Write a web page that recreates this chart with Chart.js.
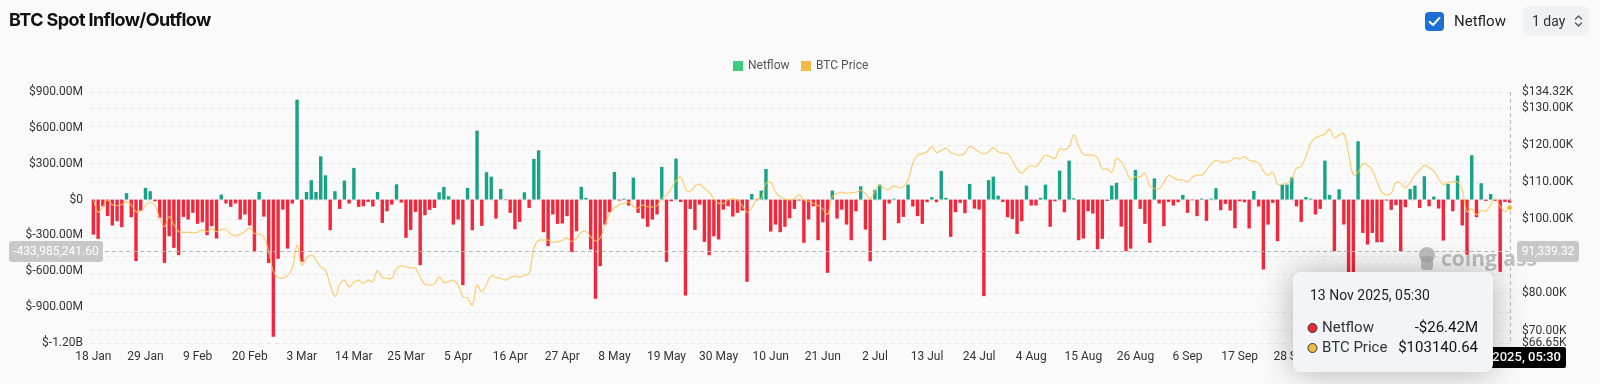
<!DOCTYPE html>
<html>
<head>
<meta charset="utf-8">
<script src="https://cdn.jsdelivr.net/npm/chart.js@4.4.1/dist/chart.umd.min.js"></script>
<style>
  body { margin: 0; background: #fafafa; font-family: Roboto, "Noto Sans", sans-serif; }
  #wrap { position: relative; width: 1600px; height: 384px; overflow: hidden; background: #fafafa; }
  #c { position: absolute; left: 0; top: 0; }
  .title { position: absolute; left: 9px; top: 9px; font: 700 18px Inter, sans-serif; letter-spacing: -0.6px; color: #111; }
  .chk { position: absolute; left: 1425px; top: 12px; width: 19px; height: 19px; border-radius: 4px; background: #1b6fd6; }
  .chkLabel { position: absolute; left: 1454px; top: 11px; font-size: 15px; line-height: 20px; color: #222; }
  .btn { position: absolute; left: 1523px; top: 6px; width: 66px; height: 30px; border-radius: 6px; background: #eff1f4; }
  .btn span { position: absolute; left: 9px; top: 0; font-size: 14px; line-height: 30px; color: #333; }
  .btn svg { position: absolute; left: 51px; top: 8px; }
  .lg { position: absolute; top: 58px; font-size: 12px; line-height: 14px; color: #555; }
  .sq { position: absolute; top: 61px; width: 10px; height: 10px; }
</style>
</head>
<body>
<div id="wrap">
  <canvas id="c" width="1600" height="384"></canvas>
  <div class="title">BTC Spot Inflow/Outflow</div>
  <div class="chk">
    <svg width="19" height="19" viewBox="0 0 19 19"><path d="M4.5 9.8 L8 13 L14.5 5.8" fill="none" stroke="#fff" stroke-width="2" stroke-linecap="round" stroke-linejoin="round"/></svg>
  </div>
  <div class="chkLabel">Netflow</div>
  <div class="btn"><span>1 day</span>
    <svg width="9" height="14" viewBox="0 0 9 14"><path d="M1.5 5 L4.5 2 L7.5 5 M1.5 9 L4.5 12 L7.5 9" fill="none" stroke="#555" stroke-width="1.3" stroke-linecap="round" stroke-linejoin="round"/></svg>
  </div>
  <div class="sq" style="left:733px;background:#3ccc7c"></div>
  <div class="lg" style="left:748px">Netflow</div>
  <div class="sq" style="left:801px;background:#f2bb45"></div>
  <div class="lg" style="left:816px">BTC Price</div>
</div>

<script>
// daily netflow, millions of USD, from 18 Jan 2025
const netflow = [
  -293, -329, -56, -139, -217, -181, -231, 53, -148, -515,
  -92, 98, 70, -14, -153, -530, -307, -404, -465, -145,
  -167, -111, -203, -190, -298, -223, -326, 42, -33, -61,
  -33, -167, -125, -217, -440, 64, -142, -530, -1148, -496,
  -84, -410, -33, 836, -521, 64, 162, 64, 362, 203,
  -256, 70, -78, 159, -33, 265, -61, -56, -20, -58,
  64, -195, -98, -42, 128, -25, -320, -254, -103, -549,
  -131, -86, -70, 61, 106, 28, -209, -167, -716, 98,
  -256, 577, -220, 229, 192, -159, 89, -5, -111, -248,
  -187, 61, -70, 340, 412, -273, -390, -125, -203, -200,
  -139, -440, -265, 106, 14, -418, -830, -557, -209, -106,
  231, -8, 8, -50, 184, -111, -159, -228, -167, -125,
  273, -521, -14, 343, -20, -803, -78, -254, -42, -354,
  -465, -307, -334, -84, -56, -142, -111, -92, -688, 47,
  -5, 75, 256, -268, -209, -273, -228, -156, -78, -8,
  -362, -167, -56, -340, -190, -613, 75, -159, -84, -209,
  -340, -98, 111, -251, -516, 81, 125, -340, -33, 8,
  -198, -145, 125, -58, -139, -203, -22, 20, -22, 240,
  14, -312, -106, -28, -114, 131, -75, -84, -808, 162,
  192, 33, -20, -148, -162, -287, -181, 117, -50, -50,
  14, 125, -228, -14, 242, -106, 326, 11, -340, -326,
  -98, -117, -415, -329, -11, 117, 139, -226, -432, -410,
  248, -78, -203, -362, 178, -33, -223, -20, -50, -22,
  39, -111, -6, -139, 8, -178, 8, 95, -89, -36,
  -92, -240, -14, -22, -242, 72, -58, -585, -209, -28,
  -348, 125, 125, 186, -56, -187, 22, 8, -125, -78,
  326, 39, -432, 86, -209, -640, -720, 488, -279, -376,
  -279, -357, -357, -8, -86, -47, -432, -64, 89, 117,
  -70, 195, -56, 25, -75, -343, 131, -98, 201, -217,
  -460, 371, -148, 137, -11, 47, -11, -605, -20, -26.42
];

// BTC price, thousands of USD
const btcPrice = [
  105.2, 101.9, 103.4, 105.2, 103.9, 103.7, 104.0, 104.7, 103.9, 102.1,
  102.1, 103.7, 104.6, 103.7, 100.3, 98.0, 100.7, 98.5, 96.7, 96.5,
  96.5, 96.4, 96.5, 97.1, 96.7, 97.4, 96.7, 97.3, 97.3, 96.0,
  95.6, 96.0, 96.7, 97.7, 96.2, 96.0, 95.3, 91.3, 85.9, 84.3,
  84.1, 84.8, 86.8, 93.0, 87.7, 89.5, 90.4, 89.0, 87.2, 86.3,
  82.3, 79.2, 82.3, 83.6, 81.8, 83.0, 83.6, 82.7, 83.6, 83.2,
  86.1, 84.3, 84.1, 84.1, 86.8, 87.4, 87.2, 86.9, 86.8, 84.3,
  82.5, 82.3, 82.6, 84.5, 83.0, 83.2, 83.6, 82.3, 79.2, 78.7,
  76.9, 82.3, 80.5, 82.5, 84.8, 84.3, 84.1, 83.6, 84.3, 84.7,
  84.4, 85.0, 85.4, 92.2, 94.3, 94.4, 94.4, 93.8, 94.0, 94.3,
  94.9, 94.0, 94.9, 96.5, 96.7, 95.3, 94.2, 94.9, 98.5, 101.6,
  103.1, 103.9, 104.3, 104.6, 103.4, 103.0, 103.9, 103.4, 103.3, 103.7,
  105.6, 106.6, 108.3, 110.3, 111.4, 108.3, 107.4, 109.0, 109.4, 108.3,
  107.3, 105.5, 104.3, 104.3, 105.2, 105.6, 105.2, 103.7, 101.9, 103.0,
  105.5, 105.6, 109.7, 110.0, 107.4, 106.1, 105.5, 105.2, 105.5, 106.6,
  105.2, 104.9, 104.3, 103.7, 102.8, 101.3, 106.1, 107.0, 107.3, 107.0,
  107.2, 107.3, 107.8, 107.0, 105.6, 107.6, 109.2, 108.3, 108.1, 109.0,
  108.5, 108.8, 110.6, 115.1, 117.3, 117.7, 118.2, 119.6, 118.0, 118.6,
  119.1, 118.1, 117.5, 117.3, 117.8, 119.7, 119.0, 118.2, 117.6, 118.2,
  119.3, 118.2, 117.8, 117.7, 116.0, 113.6, 112.4, 113.7, 114.5, 114.2,
  115.7, 117.3, 116.9, 116.4, 119.0, 118.7, 119.6, 122.7, 119.8, 117.5,
  117.3, 117.3, 116.6, 113.6, 113.6, 112.7, 116.4, 115.4, 113.3, 110.6,
  111.5, 111.5, 112.4, 109.0, 108.3, 108.2, 110.0, 111.8, 111.2, 110.7,
  110.6, 110.1, 111.3, 111.9, 111.9, 113.3, 115.0, 115.9, 115.5, 115.4,
  115.7, 116.6, 116.3, 116.9, 115.9, 115.7, 115.1, 113.0, 111.9, 112.7,
  109.4, 109.5, 109.7, 111.0, 113.7, 114.3, 116.9, 120.5, 122.0, 122.5,
  122.9, 124.3, 122.0, 122.7, 123.1, 117.8, 112.0, 112.7, 115.0, 114.6,
  113.3, 110.1, 107.4, 106.6, 107.0, 110.0, 109.7, 108.5, 110.0, 111.9,
  113.3, 114.6, 113.9, 113.0, 111.0, 109.4, 109.9, 110.1, 110.1, 107.9,
  102.0, 102.8, 101.2, 102.4, 102.2, 103.9, 105.5, 103.4, 102.1, 103.14
];

const priceTicks = [66.65, 70, 75, 80, 85, 90, 95, 100, 105, 110, 115, 120, 125, 130, 134.32];
const priceLabelled = [66.65, 70, 80, 90, 100, 110, 120, 130, 134.32];

// hover state shown in the picture
const hoverIndex = 299;
const hoverTitle = '13 Nov 2025, 05:30';
const hoverNetflowText = '-$26.42M';
const hoverPriceText = '$103140.64';
const cursorNetflow = -433.9852416;
const cursorLeftText = '-433,985,241.60';
const cursorRightText = '91,339.32';

const MONTHS = ['Jan','Feb','Mar','Apr','May','Jun','Jul','Aug','Sep','Oct','Nov','Dec'];
const start = Date.UTC(2025, 0, 18);
const dayLabels = netflow.map((v, i) => {
  const d = new Date(start + i * 86400000);
  return d.getUTCDate() + ' ' + MONTHS[d.getUTCMonth()];
});

const GREEN = '#17a387';
const RED = '#f3263c';
const TICK_FONT = { family: 'Roboto', size: 12 };

function fmtFlow(v) {
  if (v === 0) return '$0';
  if (Math.abs(v) >= 1000) return '$' + (v / 1000).toFixed(2) + 'B';
  return '$' + v.toFixed(2) + 'M';
}

function roundRect(ctx, x, y, w, h, r) {
  ctx.beginPath();
  ctx.moveTo(x + r, y);
  ctx.arcTo(x + w, y, x + w, y + h, r);
  ctx.arcTo(x + w, y + h, x, y + h, r);
  ctx.arcTo(x, y + h, x, y, r);
  ctx.arcTo(x, y, x + w, y, r);
  ctx.closePath();
}

const overlay = {
  id: 'overlay',
  beforeDatasetsDraw(chart) {
    const ctx = chart.ctx;
    ctx.save();
    ctx.fillStyle = 'rgba(165,165,165,0.7)';
    // little logo blob
    ctx.beginPath();
    ctx.arc(1427, 255, 8, 0, Math.PI * 2);
    ctx.fill();
    roundRect(ctx, 1421, 256, 12, 14, 3);
    ctx.fill();
    ctx.font = '700 21px "Open Sans"';
    ctx.textBaseline = 'middle';
    ctx.fillText('coinglass', 1441, 260);
    ctx.restore();
  },
  afterDraw(chart) {
    const ctx = chart.ctx;
    const area = chart.chartArea;
    const xs = chart.scales.x, ys = chart.scales.y;
    const hx = xs.getPixelForValue(hoverIndex);
    const hy = ys.getPixelForValue(cursorNetflow);
    ctx.save();
    // crosshair
    ctx.strokeStyle = '#b9b9b9';
    ctx.lineWidth = 1;
    ctx.setLineDash([4, 3]);
    ctx.beginPath();
    ctx.moveTo(area.left, Math.round(hy) + 0.5);
    ctx.lineTo(area.right, Math.round(hy) + 0.5);
    ctx.moveTo(Math.round(hx) + 0.5, area.top);
    ctx.lineTo(Math.round(hx) + 0.5, area.bottom);
    ctx.stroke();
    ctx.setLineDash([]);

    // hovered price point
    const pt = chart.getDatasetMeta(0).data[hoverIndex];
    ctx.fillStyle = '#f5b93e';
    ctx.strokeStyle = '#fff';
    ctx.lineWidth = 1;
    ctx.beginPath();
    ctx.arc(pt.x, pt.y, 3, 0, Math.PI * 2);
    ctx.fill();
    ctx.stroke();

    // axis cursor labels
    ctx.font = '12px Roboto';
    ctx.textBaseline = 'middle';
    ctx.textAlign = 'center';
    ctx.fillStyle = '#c8c8c8';
    roundRect(ctx, 9, hy - 10.5, 94, 21, 3); ctx.fill();
    roundRect(ctx, 1517, hy - 10.5, 62, 21, 3); ctx.fill();
    ctx.fillStyle = '#fff';
    ctx.fillText(cursorLeftText, 56, hy + 0.5);
    ctx.fillText(cursorRightText, 1548, hy + 0.5);

    // bottom date label, kept inside the canvas edge
    ctx.font = '500 13px Roboto';
    const tw = ctx.measureText(hoverTitle).width + 10;
    const bx = Math.min(hx - tw / 2, 1566 - tw);
    ctx.fillStyle = '#000';
    roundRect(ctx, bx, 347, tw, 21, 2); ctx.fill();
    ctx.fillStyle = '#fff';
    ctx.fillText(hoverTitle, bx + tw / 2, 358);

    // tooltip box
    ctx.shadowColor = 'rgba(0,0,0,0.3)';
    ctx.shadowBlur = 34;
    ctx.fillStyle = '#f3f4f7';
    roundRect(ctx, 1293, 272, 200, 100, 8); ctx.fill();
    ctx.shadowColor = 'transparent';
    ctx.shadowBlur = 0;
    ctx.textAlign = 'left';
    ctx.fillStyle = '#222';
    ctx.font = '14px Roboto';
    ctx.fillText(hoverTitle, 1310, 296);
    ctx.font = '15px Roboto';
    ctx.fillStyle = '#333';
    ctx.fillText('Netflow', 1322, 328);
    ctx.fillText('BTC Price', 1322, 348);
    ctx.textAlign = 'right';
    ctx.fillStyle = '#111';
    ctx.fillText(hoverNetflowText, 1478, 328);
    ctx.fillText(hoverPriceText, 1478, 348);
    const dots = [[328, RED], [348, '#f2bb45']];
    dots.forEach(([y, c]) => {
      ctx.beginPath();
      ctx.arc(1312.5, y, 4.5, 0, Math.PI * 2);
      ctx.fillStyle = c;
      ctx.fill();
      ctx.strokeStyle = '#333';
      ctx.lineWidth = 1;
      ctx.stroke();
    });
    ctx.restore();
  }
};

new Chart(document.getElementById('c'), {
  data: {
    labels: dayLabels,
    datasets: [
      {
        type: 'line',
        label: 'BTC Price',
        data: btcPrice,
        yAxisID: 'y1',
        borderColor: 'rgba(251,196,84,0.82)',
        borderWidth: 1.2,
        pointRadius: 0,
        tension: 0.4,
        order: 0
      },
      {
        type: 'bar',
        label: 'Netflow',
        data: netflow,
        yAxisID: 'y',
        backgroundColor: netflow.map(v => v >= 0 ? GREEN : RED),
        barPercentage: 0.72,
        categoryPercentage: 1,
        order: 1
      }
    ]
  },
  options: {
    responsive: false,
    animation: false,
    devicePixelRatio: 1,
    events: [],
    layout: { padding: { top: 92, left: 0, right: 0, bottom: 0 } },
    plugins: { legend: { display: false }, tooltip: { enabled: false } },
    scales: {
      x: {
        type: 'category',
        offset: true,
        grid: { display: false, drawTicks: false },
        border: { display: false },
        ticks: {
          autoSkip: false,
          maxRotation: 0,
          padding: 7,
          font: TICK_FONT,
          color: '#333',
          callback: (v, i) => i % 11 === 0 ? dayLabels[i] : ''
        },
        afterFit: s => { s.height = 41; }
      },
      y: {
        position: 'left',
        min: -1200,
        max: 900,
        grid: { display: false, drawTicks: false },
        border: { display: false },
        ticks: { stepSize: 300, padding: 8, font: TICK_FONT, color: '#333', callback: v => fmtFlow(v) },
        afterFit: s => { s.width = 91; }
      },
      y1: {
        position: 'right',
        min: 66.65,
        max: 134.32,
        grid: { color: '#e7e7e7', drawTicks: false },
        border: { display: false, dash: [4, 4] },
        afterBuildTicks: s => { s.ticks = priceTicks.map(v => ({ value: v })); },
        ticks: {
          padding: 10,
          font: TICK_FONT,
          color: '#333',
          callback: v => priceLabelled.includes(v) ? '$' + v.toFixed(2) + 'K' : ''
        },
        afterFit: s => { s.width = 88; }
      }
    }
  },
  plugins: [overlay]
});
</script>
</body>
</html>
